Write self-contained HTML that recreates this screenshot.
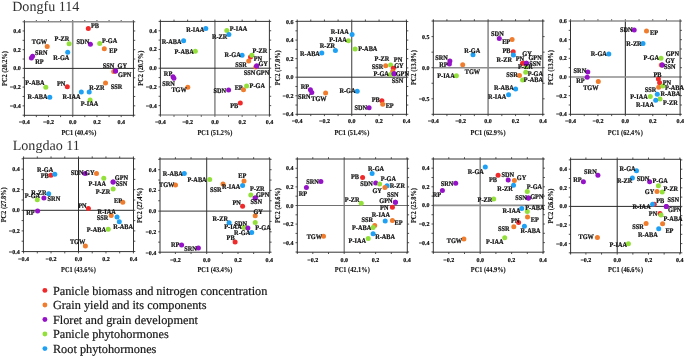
<!DOCTYPE html>
<html><head><meta charset="utf-8"><style>
html,body{margin:0;padding:0;background:#fff;width:685px;height:357px;overflow:hidden}
svg{display:block;will-change:transform}
text{font-family:"Liberation Serif",serif;text-rendering:geometricPrecision}
.l{font-size:6.3px;font-weight:bold;fill:#111;stroke:#111;stroke-width:0.22px}
.t{font-size:6.0px;font-weight:bold;fill:#111;stroke:#111;stroke-width:0.2px}
.a{font-size:6.35px;font-weight:bold;fill:#111;stroke:#111;stroke-width:0.1px}
.ti{font-size:14.1px;fill:#303030}
.lg{font-size:12.3px;fill:#141414;stroke:#141414;stroke-width:0.18px}
</style></head><body>
<svg width="685" height="357" viewBox="0 0 685 357">
<path d="M24.40 115.30v1.8M24.40 21.80v-1.8M36.34 115.30v1.8M36.34 21.80v-1.8M48.46 115.30v1.8M48.46 21.80v-1.8M60.58 115.30v1.8M60.58 21.80v-1.8M72.70 115.30v1.8M72.70 21.80v-1.8M84.82 115.30v1.8M84.82 21.80v-1.8M96.94 115.30v1.8M96.94 21.80v-1.8M109.06 115.30v1.8M109.06 21.80v-1.8M121.18 115.30v1.8M121.18 21.80v-1.8M133.30 115.30v1.8M133.30 21.80v-1.8M24.40 115.20h-1.8M133.45 115.20h1.8M24.40 105.84h-1.8M133.45 105.84h1.8M24.40 96.48h-1.8M133.45 96.48h1.8M24.40 87.12h-1.8M133.45 87.12h1.8M24.40 77.76h-1.8M133.45 77.76h1.8M24.40 68.40h-1.8M133.45 68.40h1.8M24.40 59.04h-1.8M133.45 59.04h1.8M24.40 49.68h-1.8M133.45 49.68h1.8M24.40 40.32h-1.8M133.45 40.32h1.8M24.40 30.96h-1.8M133.45 30.96h1.8M24.40 21.80h-1.8M133.45 21.80h1.8" stroke="#333" stroke-width="0.85" fill="none"/>
<text x="24.22" y="124.1" class="t" text-anchor="middle">−0.4</text>
<text x="48.46" y="124.1" class="t" text-anchor="middle">−0.2</text>
<text x="72.70" y="124.1" class="t" text-anchor="middle">0.0</text>
<text x="96.94" y="124.1" class="t" text-anchor="middle">0.2</text>
<text x="121.18" y="124.1" class="t" text-anchor="middle">0.4</text>
<text x="20.70" y="107.84" class="t" text-anchor="end">−0.4</text>
<text x="20.70" y="89.12" class="t" text-anchor="end">−0.2</text>
<text x="20.70" y="70.40" class="t" text-anchor="end">0.0</text>
<text x="20.70" y="51.68" class="t" text-anchor="end">0.2</text>
<text x="20.70" y="32.96" class="t" text-anchor="end">0.4</text>
<line x1="72.70" y1="21.80" x2="72.70" y2="115.30" stroke="#8e8e8e" stroke-width="1.6"/>
<line x1="24.40" y1="68.40" x2="133.45" y2="68.40" stroke="#2a2a2a" stroke-width="1.0"/>
<line x1="23.90" y1="21.80" x2="133.95" y2="21.80" stroke="#8e8e8e" stroke-width="1.5"/>
<line x1="23.90" y1="115.30" x2="133.95" y2="115.30" stroke="#333" stroke-width="1.0"/>
<line x1="24.40" y1="21.30" x2="24.40" y2="115.80" stroke="#333" stroke-width="1.0"/>
<line x1="133.45" y1="21.30" x2="133.45" y2="115.80" stroke="#333" stroke-width="1.0"/>
<text transform="translate(78.92,134.6) scale(1,1.2)" class="a" text-anchor="middle">PC1 (40.4%)</text>
<text transform="translate(6.80,68.55) rotate(-90) scale(1,1.2)" class="a" text-anchor="middle">PC2 (20.2%)</text>
<circle cx="88.30" cy="28.50" r="2.5" fill="#f02a2a"/>
<circle cx="47.20" cy="46.40" r="2.5" fill="#f07d2d"/>
<circle cx="69.10" cy="43.80" r="2.5" fill="#93e03a"/>
<circle cx="67.70" cy="52.20" r="2.5" fill="#1ea0f5"/>
<circle cx="32.60" cy="56.20" r="2.5" fill="#9512c8"/>
<circle cx="31.40" cy="58.00" r="2.5" fill="#9512c8"/>
<circle cx="90.40" cy="44.30" r="2.5" fill="#9512c8"/>
<circle cx="99.70" cy="43.40" r="2.5" fill="#93e03a"/>
<circle cx="104.30" cy="48.70" r="2.5" fill="#f07d2d"/>
<circle cx="113.70" cy="71.60" r="2.5" fill="#f07d2d"/>
<circle cx="115.50" cy="71.10" r="2.5" fill="#9512c8"/>
<circle cx="115.50" cy="71.10" r="2.5" fill="#9512c8"/>
<circle cx="45.80" cy="87.20" r="2.5" fill="#93e03a"/>
<circle cx="67.30" cy="86.80" r="2.5" fill="#f02a2a"/>
<circle cx="49.80" cy="97.30" r="2.5" fill="#1ea0f5"/>
<circle cx="81.30" cy="91.90" r="2.5" fill="#1ea0f5"/>
<circle cx="89.20" cy="91.90" r="2.5" fill="#1ea0f5"/>
<circle cx="90.10" cy="100.00" r="2.5" fill="#93e03a"/>
<circle cx="105.50" cy="83.10" r="2.5" fill="#f07d2d"/>
<text transform="translate(94.90,27.60) scale(1.0,1.12)" class="l" text-anchor="middle">PB</text>
<text transform="translate(39.45,43.90) scale(1.0,1.12)" class="l" text-anchor="middle">TGW</text>
<text transform="translate(61.90,41.10) scale(1.0,1.12)" class="l" text-anchor="middle">P-ZR</text>
<text transform="translate(61.35,60.40) scale(1.0,1.12)" class="l" text-anchor="middle">R-GA</text>
<text transform="translate(41.20,55.10) scale(1.0,1.12)" class="l" text-anchor="middle">SRN</text>
<text transform="translate(39.35,63.90) scale(1.0,1.12)" class="l" text-anchor="middle">RP</text>
<text transform="translate(82.90,43.70) scale(1.0,1.12)" class="l" text-anchor="middle">SDN</text>
<text transform="translate(109.60,42.90) scale(1.0,1.12)" class="l" text-anchor="middle">P-GA</text>
<text transform="translate(113.25,53.00) scale(1.0,1.12)" class="l" text-anchor="middle">EP</text>
<text transform="translate(122.25,67.90) scale(1.0,1.12)" class="l" text-anchor="middle">GY</text>
<text transform="translate(108.45,67.90) scale(1.0,1.12)" class="l" text-anchor="middle">SSN</text>
<text transform="translate(124.65,77.20) scale(1.0,1.12)" class="l" text-anchor="middle">GPN</text>
<text transform="translate(34.90,85.00) scale(1.0,1.12)" class="l" text-anchor="middle">P-ABA</text>
<text transform="translate(61.15,85.80) scale(1.0,1.12)" class="l" text-anchor="middle">PN</text>
<text transform="translate(37.55,99.40) scale(1.0,1.12)" class="l" text-anchor="middle">R-ABA</text>
<text transform="translate(71.50,99.20) scale(1.0,1.12)" class="l" text-anchor="middle">R-IAA</text>
<text transform="translate(96.90,90.10) scale(1.0,1.12)" class="l" text-anchor="middle">R-ZR</text>
<text transform="translate(89.50,106.40) scale(1.0,1.12)" class="l" text-anchor="middle">P-IAA</text>
<text transform="translate(116.60,88.90) scale(1.0,1.12)" class="l" text-anchor="middle">SSR</text>
<path d="M160.40 115.00v1.8M160.40 21.40v-1.8M174.01 115.00v1.8M174.01 21.40v-1.8M187.64 115.00v1.8M187.64 21.40v-1.8M201.27 115.00v1.8M201.27 21.40v-1.8M214.90 115.00v1.8M214.90 21.40v-1.8M228.53 115.00v1.8M228.53 21.40v-1.8M242.16 115.00v1.8M242.16 21.40v-1.8M255.79 115.00v1.8M255.79 21.40v-1.8M269.40 115.00v1.8M269.40 21.40v-1.8M160.40 115.00h-1.8M269.40 115.00h1.8M160.40 105.64h-1.8M269.40 105.64h1.8M160.40 96.28h-1.8M269.40 96.28h1.8M160.40 86.92h-1.8M269.40 86.92h1.8M160.40 77.56h-1.8M269.40 77.56h1.8M160.40 68.20h-1.8M269.40 68.20h1.8M160.40 58.84h-1.8M269.40 58.84h1.8M160.40 49.48h-1.8M269.40 49.48h1.8M160.40 40.12h-1.8M269.40 40.12h1.8M160.40 30.76h-1.8M269.40 30.76h1.8M160.40 21.40h-1.8M269.40 21.40h1.8" stroke="#333" stroke-width="0.85" fill="none"/>
<text x="160.38" y="123.8" class="t" text-anchor="middle">−0.4</text>
<text x="187.64" y="123.8" class="t" text-anchor="middle">−0.2</text>
<text x="214.90" y="123.8" class="t" text-anchor="middle">0.0</text>
<text x="242.16" y="123.8" class="t" text-anchor="middle">0.2</text>
<text x="269.42" y="123.8" class="t" text-anchor="middle">0.4</text>
<text x="156.70" y="107.64" class="t" text-anchor="end">−0.4</text>
<text x="156.70" y="88.92" class="t" text-anchor="end">−0.2</text>
<text x="156.70" y="70.20" class="t" text-anchor="end">0.0</text>
<text x="156.70" y="51.48" class="t" text-anchor="end">0.2</text>
<text x="156.70" y="32.76" class="t" text-anchor="end">0.4</text>
<line x1="214.90" y1="21.40" x2="214.90" y2="115.00" stroke="#8e8e8e" stroke-width="1.6"/>
<line x1="160.40" y1="68.20" x2="269.40" y2="68.20" stroke="#2a2a2a" stroke-width="1.0"/>
<line x1="159.90" y1="21.40" x2="269.90" y2="21.40" stroke="#333" stroke-width="1.0"/>
<line x1="159.90" y1="115.00" x2="269.90" y2="115.00" stroke="#6a6a6a" stroke-width="1.2"/>
<line x1="160.40" y1="20.90" x2="160.40" y2="115.50" stroke="#333" stroke-width="1.0"/>
<line x1="269.40" y1="20.90" x2="269.40" y2="115.50" stroke="#333" stroke-width="1.0"/>
<text transform="translate(214.90,134.6) scale(1,1.2)" class="a" text-anchor="middle">PC1 (51.2%)</text>
<text transform="translate(142.80,68.20) rotate(-90) scale(1,1.2)" class="a" text-anchor="middle">PC2 (20.7%)</text>
<circle cx="205.80" cy="28.50" r="2.5" fill="#1ea0f5"/>
<circle cx="226.80" cy="30.60" r="2.5" fill="#93e03a"/>
<circle cx="228.90" cy="34.60" r="2.5" fill="#1ea0f5"/>
<circle cx="183.60" cy="40.80" r="2.5" fill="#1ea0f5"/>
<circle cx="195.30" cy="51.30" r="2.5" fill="#93e03a"/>
<circle cx="242.10" cy="55.30" r="2.5" fill="#1ea0f5"/>
<circle cx="250.50" cy="56.90" r="2.5" fill="#f02a2a"/>
<circle cx="251.90" cy="55.30" r="2.5" fill="#93e03a"/>
<circle cx="248.70" cy="60.90" r="2.5" fill="#f07d2d"/>
<circle cx="255.70" cy="67.00" r="2.5" fill="#f07d2d"/>
<circle cx="256.60" cy="66.10" r="2.5" fill="#9512c8"/>
<circle cx="256.60" cy="66.10" r="2.5" fill="#9512c8"/>
<circle cx="173.00" cy="76.80" r="2.5" fill="#9512c8"/>
<circle cx="173.90" cy="78.20" r="2.5" fill="#9512c8"/>
<circle cx="187.80" cy="87.20" r="2.5" fill="#f07d2d"/>
<circle cx="228.60" cy="90.10" r="2.5" fill="#9512c8"/>
<circle cx="243.50" cy="89.80" r="2.5" fill="#f07d2d"/>
<circle cx="246.60" cy="85.90" r="2.5" fill="#93e03a"/>
<circle cx="240.30" cy="102.90" r="2.5" fill="#f02a2a"/>
<text transform="translate(195.25,31.70) scale(1.0,1.12)" class="l" text-anchor="middle">R-IAA</text>
<text transform="translate(238.50,30.80) scale(1.0,1.12)" class="l" text-anchor="middle">P-IAA</text>
<text transform="translate(219.65,39.40) scale(1.0,1.12)" class="l" text-anchor="middle">R-ZR</text>
<text transform="translate(171.65,43.80) scale(1.0,1.12)" class="l" text-anchor="middle">R-ABA</text>
<text transform="translate(184.15,54.30) scale(1.0,1.12)" class="l" text-anchor="middle">P-ABA</text>
<text transform="translate(232.65,56.90) scale(1.0,1.12)" class="l" text-anchor="middle">R-GA</text>
<text transform="translate(259.95,53.00) scale(1.0,1.12)" class="l" text-anchor="middle">P-ZR</text>
<text transform="translate(257.95,61.30) scale(1.0,1.12)" class="l" text-anchor="middle">PN</text>
<text transform="translate(241.10,66.50) scale(1.0,1.12)" class="l" text-anchor="middle">SSR</text>
<text transform="translate(263.15,66.20) scale(1.0,1.12)" class="l" text-anchor="middle">GY</text>
<text transform="translate(249.60,74.60) scale(1.0,1.12)" class="l" text-anchor="middle">SSN</text>
<text transform="translate(262.60,74.60) scale(1.0,1.12)" class="l" text-anchor="middle">GPN</text>
<text transform="translate(168.05,75.80) scale(1.0,1.12)" class="l" text-anchor="middle">RP</text>
<text transform="translate(168.50,85.90) scale(1.0,1.12)" class="l" text-anchor="middle">SRN</text>
<text transform="translate(179.10,91.90) scale(1.0,1.12)" class="l" text-anchor="middle">TGW</text>
<text transform="translate(219.85,92.80) scale(1.0,1.12)" class="l" text-anchor="middle">SDN</text>
<text transform="translate(238.65,89.80) scale(1.0,1.12)" class="l" text-anchor="middle">EP</text>
<text transform="translate(257.30,88.00) scale(1.0,1.12)" class="l" text-anchor="middle">P-GA</text>
<text transform="translate(234.25,107.70) scale(1.0,1.12)" class="l" text-anchor="middle">PB</text>
<path d="M297.20 114.30v1.8M297.20 21.30v-1.8M310.77 114.30v1.8M310.77 21.30v-1.8M324.43 114.30v1.8M324.43 21.30v-1.8M338.09 114.30v1.8M338.09 21.30v-1.8M351.75 114.30v1.8M351.75 21.30v-1.8M365.41 114.30v1.8M365.41 21.30v-1.8M379.07 114.30v1.8M379.07 21.30v-1.8M392.73 114.30v1.8M392.73 21.30v-1.8M406.39 114.30v1.8M406.39 21.30v-1.8M297.20 114.30h-1.8M406.50 114.30h1.8M297.20 105.03h-1.8M406.50 105.03h1.8M297.20 95.75h-1.8M406.50 95.75h1.8M297.20 86.48h-1.8M406.50 86.48h1.8M297.20 77.20h-1.8M406.50 77.20h1.8M297.20 67.92h-1.8M406.50 67.92h1.8M297.20 58.65h-1.8M406.50 58.65h1.8M297.20 49.38h-1.8M406.50 49.38h1.8M297.20 40.10h-1.8M406.50 40.10h1.8M297.20 30.83h-1.8M406.50 30.83h1.8M297.20 21.55h-1.8M406.50 21.55h1.8" stroke="#333" stroke-width="0.85" fill="none"/>
<text x="297.11" y="123.1" class="t" text-anchor="middle">−0.4</text>
<text x="324.43" y="123.1" class="t" text-anchor="middle">−0.2</text>
<text x="351.75" y="123.1" class="t" text-anchor="middle">0.0</text>
<text x="379.07" y="123.1" class="t" text-anchor="middle">0.2</text>
<text x="406.39" y="123.1" class="t" text-anchor="middle">0.4</text>
<text x="293.50" y="116.30" class="t" text-anchor="end">−0.4</text>
<text x="293.50" y="97.75" class="t" text-anchor="end">−0.2</text>
<text x="293.50" y="79.20" class="t" text-anchor="end">0.0</text>
<text x="293.50" y="60.65" class="t" text-anchor="end">0.2</text>
<text x="293.50" y="42.10" class="t" text-anchor="end">0.4</text>
<text x="293.50" y="23.55" class="t" text-anchor="end">0.6</text>
<line x1="351.75" y1="21.30" x2="351.75" y2="114.30" stroke="#3a3a3a" stroke-width="1.0"/>
<line x1="297.20" y1="77.20" x2="406.50" y2="77.20" stroke="#2a2a2a" stroke-width="1.0"/>
<line x1="296.70" y1="21.30" x2="407.00" y2="21.30" stroke="#333" stroke-width="1.0"/>
<line x1="296.70" y1="114.30" x2="407.00" y2="114.30" stroke="#333" stroke-width="1.0"/>
<line x1="297.20" y1="20.80" x2="297.20" y2="114.80" stroke="#333" stroke-width="1.0"/>
<line x1="406.50" y1="20.80" x2="406.50" y2="114.80" stroke="#333" stroke-width="1.0"/>
<text transform="translate(351.85,134.6) scale(1,1.2)" class="a" text-anchor="middle">PC1 (51.4%)</text>
<text transform="translate(279.60,67.80) rotate(-90) scale(1,1.2)" class="a" text-anchor="middle">PC2 (17.0%)</text>
<circle cx="352.10" cy="34.60" r="2.5" fill="#1ea0f5"/>
<circle cx="348.40" cy="40.80" r="2.5" fill="#93e03a"/>
<circle cx="335.40" cy="50.40" r="2.5" fill="#1ea0f5"/>
<circle cx="321.80" cy="53.00" r="2.5" fill="#1ea0f5"/>
<circle cx="355.10" cy="49.00" r="2.5" fill="#93e03a"/>
<circle cx="385.70" cy="65.70" r="2.5" fill="#f07d2d"/>
<circle cx="390.60" cy="65.10" r="2.5" fill="#93e03a"/>
<circle cx="393.30" cy="68.20" r="2.5" fill="#f02a2a"/>
<circle cx="392.70" cy="71.40" r="2.5" fill="#f07d2d"/>
<circle cx="390.50" cy="74.40" r="2.5" fill="#93e03a"/>
<circle cx="394.10" cy="73.70" r="2.5" fill="#9512c8"/>
<circle cx="394.10" cy="73.70" r="2.5" fill="#9512c8"/>
<circle cx="310.40" cy="89.80" r="2.5" fill="#9512c8"/>
<circle cx="311.80" cy="92.40" r="2.5" fill="#9512c8"/>
<circle cx="325.60" cy="92.90" r="2.5" fill="#f07d2d"/>
<circle cx="357.20" cy="91.20" r="2.5" fill="#1ea0f5"/>
<circle cx="381.90" cy="100.80" r="2.5" fill="#f02a2a"/>
<circle cx="382.70" cy="104.30" r="2.5" fill="#f07d2d"/>
<circle cx="369.10" cy="107.70" r="2.5" fill="#9512c8"/>
<text transform="translate(339.75,34.30) scale(1.0,1.12)" class="l" text-anchor="middle">R-IAA</text>
<text transform="translate(338.00,42.00) scale(1.0,1.12)" class="l" text-anchor="middle">P-IAA</text>
<text transform="translate(327.45,48.30) scale(1.0,1.12)" class="l" text-anchor="middle">R-ZR</text>
<text transform="translate(309.95,55.70) scale(1.0,1.12)" class="l" text-anchor="middle">R-ABA</text>
<text transform="translate(367.80,51.30) scale(1.0,1.12)" class="l" text-anchor="middle">P-ABA</text>
<text transform="translate(381.95,61.30) scale(1.0,1.12)" class="l" text-anchor="middle">P-ZR</text>
<text transform="translate(377.60,68.80) scale(1.0,1.12)" class="l" text-anchor="middle">SSR</text>
<text transform="translate(398.05,61.80) scale(1.0,1.12)" class="l" text-anchor="middle">PN</text>
<text transform="translate(398.85,67.90) scale(1.0,1.12)" class="l" text-anchor="middle">GY</text>
<text transform="translate(381.20,76.30) scale(1.0,1.12)" class="l" text-anchor="middle">P-GA</text>
<text transform="translate(402.35,76.30) scale(1.0,1.12)" class="l" text-anchor="middle">GPN</text>
<text transform="translate(397.55,83.30) scale(1.0,1.12)" class="l" text-anchor="middle">SSN</text>
<text transform="translate(304.90,89.40) scale(1.0,1.12)" class="l" text-anchor="middle">RP</text>
<text transform="translate(304.25,99.40) scale(1.0,1.12)" class="l" text-anchor="middle">SRN</text>
<text transform="translate(318.90,100.80) scale(1.0,1.12)" class="l" text-anchor="middle">TGW</text>
<text transform="translate(347.45,93.30) scale(1.0,1.12)" class="l" text-anchor="middle">R-GA</text>
<text transform="translate(375.65,102.00) scale(1.0,1.12)" class="l" text-anchor="middle">PB</text>
<text transform="translate(389.65,107.80) scale(1.0,1.12)" class="l" text-anchor="middle">EP</text>
<text transform="translate(360.75,110.30) scale(1.0,1.12)" class="l" text-anchor="middle">SDN</text>
<path d="M433.30 114.30v1.8M433.30 21.00v-1.8M446.91 114.30v1.8M446.91 21.00v-1.8M460.64 114.30v1.8M460.64 21.00v-1.8M474.37 114.30v1.8M474.37 21.00v-1.8M488.10 114.30v1.8M488.10 21.00v-1.8M501.83 114.30v1.8M501.83 21.00v-1.8M515.56 114.30v1.8M515.56 21.00v-1.8M529.29 114.30v1.8M529.29 21.00v-1.8M542.80 114.30v1.8M542.80 21.00v-1.8M433.30 114.30h-1.8M542.80 114.30h1.8M433.30 98.80h-1.8M542.80 98.80h1.8M433.30 83.25h-1.8M542.80 83.25h1.8M433.30 67.70h-1.8M542.80 67.70h1.8M433.30 52.15h-1.8M542.80 52.15h1.8M433.30 36.60h-1.8M542.80 36.60h1.8M433.30 21.05h-1.8M542.80 21.05h1.8" stroke="#333" stroke-width="0.85" fill="none"/>
<text x="433.18" y="123.1" class="t" text-anchor="middle">−0.4</text>
<text x="460.64" y="123.1" class="t" text-anchor="middle">−0.2</text>
<text x="488.10" y="123.1" class="t" text-anchor="middle">0.0</text>
<text x="515.56" y="123.1" class="t" text-anchor="middle">0.2</text>
<text x="543.02" y="123.1" class="t" text-anchor="middle">0.4</text>
<text x="429.60" y="100.80" class="t" text-anchor="end">−0.5</text>
<text x="429.60" y="69.70" class="t" text-anchor="end">0.0</text>
<text x="429.60" y="38.60" class="t" text-anchor="end">0.5</text>
<line x1="488.10" y1="21.00" x2="488.10" y2="114.30" stroke="#8e8e8e" stroke-width="1.6"/>
<line x1="433.30" y1="67.70" x2="542.80" y2="67.70" stroke="#8e8e8e" stroke-width="1.6"/>
<line x1="432.80" y1="21.00" x2="543.30" y2="21.00" stroke="#333" stroke-width="1.0"/>
<line x1="432.80" y1="114.30" x2="543.30" y2="114.30" stroke="#333" stroke-width="1.0"/>
<line x1="433.30" y1="20.50" x2="433.30" y2="114.80" stroke="#333" stroke-width="1.0"/>
<line x1="542.80" y1="20.50" x2="542.80" y2="114.80" stroke="#333" stroke-width="1.0"/>
<text transform="translate(488.05,134.6) scale(1,1.2)" class="a" text-anchor="middle">PC1 (62.9%)</text>
<text transform="translate(415.70,67.65) rotate(-90) scale(1,1.2)" class="a" text-anchor="middle">PC2 (13.8%)</text>
<circle cx="499.30" cy="38.50" r="2.5" fill="#9512c8"/>
<circle cx="512.10" cy="39.50" r="2.5" fill="#f07d2d"/>
<circle cx="513.20" cy="51.80" r="2.5" fill="#f02a2a"/>
<circle cx="473.00" cy="54.80" r="2.5" fill="#1ea0f5"/>
<circle cx="513.40" cy="55.00" r="2.5" fill="#1ea0f5"/>
<circle cx="449.90" cy="60.90" r="2.5" fill="#9512c8"/>
<circle cx="449.40" cy="64.10" r="2.5" fill="#9512c8"/>
<circle cx="462.70" cy="64.80" r="2.5" fill="#f07d2d"/>
<circle cx="456.40" cy="75.80" r="2.5" fill="#93e03a"/>
<circle cx="526.00" cy="66.80" r="2.5" fill="#93e03a"/>
<circle cx="524.20" cy="63.30" r="2.5" fill="#f07d2d"/>
<circle cx="522.50" cy="63.30" r="2.5" fill="#f02a2a"/>
<circle cx="526.40" cy="63.30" r="2.5" fill="#9512c8"/>
<circle cx="526.40" cy="63.30" r="2.5" fill="#9512c8"/>
<circle cx="525.70" cy="72.30" r="2.5" fill="#93e03a"/>
<circle cx="519.50" cy="75.60" r="2.5" fill="#f07d2d"/>
<circle cx="522.60" cy="80.00" r="2.5" fill="#93e03a"/>
<circle cx="515.60" cy="88.90" r="2.5" fill="#1ea0f5"/>
<circle cx="508.60" cy="94.70" r="2.5" fill="#1ea0f5"/>
<text transform="translate(497.40,36.40) scale(1.0,1.12)" class="l" text-anchor="middle">SDN</text>
<text transform="translate(506.15,43.90) scale(1.0,1.12)" class="l" text-anchor="middle">EP</text>
<text transform="translate(506.40,53.00) scale(1.0,1.12)" class="l" text-anchor="middle">PB</text>
<text transform="translate(472.25,52.50) scale(1.0,1.12)" class="l" text-anchor="middle">R-GA</text>
<text transform="translate(504.30,61.80) scale(1.0,1.12)" class="l" text-anchor="middle">R-ZR</text>
<text transform="translate(441.50,60.00) scale(1.0,1.12)" class="l" text-anchor="middle">SRN</text>
<text transform="translate(443.35,66.70) scale(1.0,1.12)" class="l" text-anchor="middle">RP</text>
<text transform="translate(472.40,74.10) scale(1.0,1.12)" class="l" text-anchor="middle">TGW</text>
<text transform="translate(445.95,77.90) scale(1.0,1.12)" class="l" text-anchor="middle">P-IAA</text>
<text transform="translate(527.05,55.80) scale(1.0,1.12)" class="l" text-anchor="middle">GY</text>
<text transform="translate(519.90,60.50) scale(1.0,1.12)" class="l" text-anchor="middle">PN</text>
<text transform="translate(535.10,60.40) scale(1.0,1.12)" class="l" text-anchor="middle">GPN</text>
<text transform="translate(535.10,66.00) scale(1.0,1.12)" class="l" text-anchor="middle">SSN</text>
<text transform="translate(525.35,69.00) scale(1.0,1.12)" class="l" text-anchor="middle">P-ZR</text>
<text transform="translate(535.35,75.80) scale(1.0,1.12)" class="l" text-anchor="middle">P-GA</text>
<text transform="translate(512.00,77.30) scale(1.0,1.12)" class="l" text-anchor="middle">SSR</text>
<text transform="translate(533.45,82.20) scale(1.0,1.12)" class="l" text-anchor="middle">P-ABA</text>
<text transform="translate(503.85,90.30) scale(1.0,1.12)" class="l" text-anchor="middle">R-ABA</text>
<text transform="translate(497.20,99.10) scale(1.0,1.12)" class="l" text-anchor="middle">R-IAA</text>
<path d="M570.55 114.30v1.8M570.55 21.00v-1.8M584.25 114.30v1.8M584.25 21.00v-1.8M597.95 114.30v1.8M597.95 21.00v-1.8M611.65 114.30v1.8M611.65 21.00v-1.8M625.35 114.30v1.8M625.35 21.00v-1.8M639.05 114.30v1.8M639.05 21.00v-1.8M652.75 114.30v1.8M652.75 21.00v-1.8M666.45 114.30v1.8M666.45 21.00v-1.8M680.10 114.30v1.8M680.10 21.00v-1.8M570.50 114.30h-1.8M680.10 114.30h1.8M570.50 104.99h-1.8M680.10 104.99h1.8M570.50 95.66h-1.8M680.10 95.66h1.8M570.50 86.33h-1.8M680.10 86.33h1.8M570.50 77.00h-1.8M680.10 77.00h1.8M570.50 67.67h-1.8M680.10 67.67h1.8M570.50 58.34h-1.8M680.10 58.34h1.8M570.50 49.01h-1.8M680.10 49.01h1.8M570.50 39.68h-1.8M680.10 39.68h1.8M570.50 30.35h-1.8M680.10 30.35h1.8M570.50 21.02h-1.8M680.10 21.02h1.8" stroke="#333" stroke-width="0.85" fill="none"/>
<text x="570.55" y="123.1" class="t" text-anchor="middle">−0.4</text>
<text x="597.95" y="123.1" class="t" text-anchor="middle">−0.2</text>
<text x="625.35" y="123.1" class="t" text-anchor="middle">0.0</text>
<text x="652.75" y="123.1" class="t" text-anchor="middle">0.2</text>
<text x="680.15" y="123.1" class="t" text-anchor="middle">0.4</text>
<text x="566.80" y="116.32" class="t" text-anchor="end">−0.4</text>
<text x="566.80" y="97.66" class="t" text-anchor="end">−0.2</text>
<text x="566.80" y="79.00" class="t" text-anchor="end">0.0</text>
<text x="566.80" y="60.34" class="t" text-anchor="end">0.2</text>
<text x="566.80" y="41.68" class="t" text-anchor="end">0.4</text>
<text x="566.80" y="23.02" class="t" text-anchor="end">0.6</text>
<line x1="625.35" y1="21.00" x2="625.35" y2="114.30" stroke="#333" stroke-width="1.1"/>
<line x1="570.50" y1="77.00" x2="680.10" y2="77.00" stroke="#8e8e8e" stroke-width="1.5"/>
<line x1="570.00" y1="21.00" x2="680.60" y2="21.00" stroke="#8e8e8e" stroke-width="1.4"/>
<line x1="570.00" y1="114.30" x2="680.60" y2="114.30" stroke="#333" stroke-width="1.0"/>
<line x1="570.50" y1="20.50" x2="570.50" y2="114.80" stroke="#333" stroke-width="1.0"/>
<line x1="680.10" y1="20.50" x2="680.10" y2="114.80" stroke="#333" stroke-width="1.0"/>
<text transform="translate(625.30,134.6) scale(1,1.2)" class="a" text-anchor="middle">PC1 (62.4%)</text>
<text transform="translate(552.90,67.65) rotate(-90) scale(1,1.2)" class="a" text-anchor="middle">PC2 (13.9%)</text>
<circle cx="634.20" cy="29.90" r="2.5" fill="#9512c8"/>
<circle cx="646.50" cy="31.10" r="2.5" fill="#f07d2d"/>
<circle cx="643.00" cy="43.40" r="2.5" fill="#1ea0f5"/>
<circle cx="608.80" cy="53.90" r="2.5" fill="#1ea0f5"/>
<circle cx="661.00" cy="58.30" r="2.5" fill="#93e03a"/>
<circle cx="661.20" cy="65.00" r="2.5" fill="#f07d2d"/>
<circle cx="662.20" cy="65.00" r="2.5" fill="#9512c8"/>
<circle cx="662.20" cy="65.00" r="2.5" fill="#9512c8"/>
<circle cx="587.80" cy="72.00" r="2.5" fill="#9512c8"/>
<circle cx="587.20" cy="77.20" r="2.5" fill="#9512c8"/>
<circle cx="598.30" cy="81.50" r="2.5" fill="#f07d2d"/>
<circle cx="658.40" cy="79.00" r="2.5" fill="#f02a2a"/>
<circle cx="659.60" cy="82.80" r="2.5" fill="#f02a2a"/>
<circle cx="658.70" cy="87.20" r="2.5" fill="#f07d2d"/>
<circle cx="662.80" cy="85.90" r="2.5" fill="#93e03a"/>
<circle cx="657.30" cy="94.20" r="2.5" fill="#1ea0f5"/>
<circle cx="650.30" cy="96.40" r="2.5" fill="#93e03a"/>
<circle cx="660.00" cy="98.90" r="2.5" fill="#93e03a"/>
<circle cx="655.70" cy="100.30" r="2.5" fill="#1ea0f5"/>
<text transform="translate(626.30,32.00) scale(1.0,1.12)" class="l" text-anchor="middle">SDN</text>
<text transform="translate(653.95,34.60) scale(1.0,1.12)" class="l" text-anchor="middle">EP</text>
<text transform="translate(633.95,45.50) scale(1.0,1.12)" class="l" text-anchor="middle">R-ZR</text>
<text transform="translate(598.80,56.20) scale(1.0,1.12)" class="l" text-anchor="middle">R-GA</text>
<text transform="translate(651.25,59.50) scale(1.0,1.12)" class="l" text-anchor="middle">P-GA</text>
<text transform="translate(672.30,56.00) scale(1.0,1.12)" class="l" text-anchor="middle">GPN</text>
<text transform="translate(670.10,62.70) scale(1.0,1.12)" class="l" text-anchor="middle">GY</text>
<text transform="translate(669.85,68.50) scale(1.0,1.12)" class="l" text-anchor="middle">SSN</text>
<text transform="translate(579.90,73.20) scale(1.0,1.12)" class="l" text-anchor="middle">SRN</text>
<text transform="translate(580.35,83.30) scale(1.0,1.12)" class="l" text-anchor="middle">RP</text>
<text transform="translate(590.85,89.80) scale(1.0,1.12)" class="l" text-anchor="middle">TGW</text>
<text transform="translate(657.45,77.40) scale(1.0,1.12)" class="l" text-anchor="middle">PB</text>
<text transform="translate(666.90,84.50) scale(1.0,1.12)" class="l" text-anchor="middle">PN</text>
<text transform="translate(650.60,91.50) scale(1.0,1.12)" class="l" text-anchor="middle">SSR</text>
<text transform="translate(674.50,89.80) scale(1.0,1.12)" class="l" text-anchor="middle">P-ABA</text>
<text transform="translate(670.40,95.90) scale(1.0,1.12)" class="l" text-anchor="middle">R-ABA</text>
<text transform="translate(639.00,98.90) scale(1.0,1.12)" class="l" text-anchor="middle">P-IAA</text>
<text transform="translate(670.35,105.20) scale(1.0,1.12)" class="l" text-anchor="middle">P-ZR</text>
<text transform="translate(645.00,107.00) scale(1.0,1.12)" class="l" text-anchor="middle">R-IAA</text>
<path d="M23.58 251.60v1.8M23.58 158.20v-1.8M37.31 251.60v1.8M37.31 158.20v-1.8M51.04 251.60v1.8M51.04 158.20v-1.8M64.77 251.60v1.8M64.77 158.20v-1.8M78.50 251.60v1.8M78.50 158.20v-1.8M92.23 251.60v1.8M92.23 158.20v-1.8M105.96 251.60v1.8M105.96 158.20v-1.8M119.69 251.60v1.8M119.69 158.20v-1.8M133.42 251.60v1.8M133.42 158.20v-1.8M23.40 251.50h-1.8M133.50 251.50h1.8M23.40 241.20h-1.8M133.50 241.20h1.8M23.40 230.90h-1.8M133.50 230.90h1.8M23.40 220.60h-1.8M133.50 220.60h1.8M23.40 210.30h-1.8M133.50 210.30h1.8M23.40 200.00h-1.8M133.50 200.00h1.8M23.40 189.70h-1.8M133.50 189.70h1.8M23.40 179.40h-1.8M133.50 179.40h1.8M23.40 169.10h-1.8M133.50 169.10h1.8M23.40 158.80h-1.8M133.50 158.80h1.8" stroke="#333" stroke-width="0.85" fill="none"/>
<text x="23.58" y="260.9" class="t" text-anchor="middle">−0.4</text>
<text x="51.04" y="260.9" class="t" text-anchor="middle">−0.2</text>
<text x="78.50" y="260.9" class="t" text-anchor="middle">0.0</text>
<text x="105.96" y="260.9" class="t" text-anchor="middle">0.2</text>
<text x="133.42" y="260.9" class="t" text-anchor="middle">0.4</text>
<text x="19.70" y="253.50" class="t" text-anchor="end">−0.4</text>
<text x="19.70" y="232.90" class="t" text-anchor="end">−0.2</text>
<text x="19.70" y="212.30" class="t" text-anchor="end">0.0</text>
<text x="19.70" y="191.70" class="t" text-anchor="end">0.2</text>
<text x="19.70" y="171.10" class="t" text-anchor="end">0.4</text>
<line x1="78.50" y1="158.20" x2="78.50" y2="251.60" stroke="#2a2a2a" stroke-width="1.0"/>
<line x1="23.40" y1="210.30" x2="133.50" y2="210.30" stroke="#2a2a2a" stroke-width="1.0"/>
<line x1="22.90" y1="158.20" x2="134.00" y2="158.20" stroke="#333" stroke-width="1.0"/>
<line x1="22.90" y1="251.60" x2="134.00" y2="251.60" stroke="#333" stroke-width="1.0"/>
<line x1="23.40" y1="157.70" x2="23.40" y2="252.10" stroke="#333" stroke-width="1.0"/>
<line x1="133.50" y1="157.70" x2="133.50" y2="252.10" stroke="#333" stroke-width="1.0"/>
<text transform="translate(78.45,272.2) scale(1,1.2)" class="a" text-anchor="middle">PC1 (43.6%)</text>
<text transform="translate(5.80,204.90) rotate(-90) scale(1,1.2)" class="a" text-anchor="middle">PC2 (27.8%)</text>
<circle cx="50.90" cy="175.30" r="2.5" fill="#f02a2a"/>
<circle cx="54.80" cy="174.20" r="2.5" fill="#1ea0f5"/>
<circle cx="85.10" cy="173.40" r="2.5" fill="#9512c8"/>
<circle cx="96.50" cy="173.40" r="2.5" fill="#f07d2d"/>
<circle cx="103.80" cy="178.30" r="2.5" fill="#93e03a"/>
<circle cx="113.10" cy="182.10" r="2.5" fill="#9512c8"/>
<circle cx="113.10" cy="182.10" r="2.5" fill="#9512c8"/>
<circle cx="113.10" cy="189.10" r="2.5" fill="#93e03a"/>
<circle cx="122.80" cy="202.30" r="2.5" fill="#f07d2d"/>
<circle cx="48.70" cy="193.70" r="2.5" fill="#1ea0f5"/>
<circle cx="37.30" cy="199.70" r="2.5" fill="#93e03a"/>
<circle cx="43.90" cy="197.90" r="2.5" fill="#9512c8"/>
<circle cx="88.40" cy="208.50" r="2.5" fill="#f02a2a"/>
<circle cx="37.60" cy="211.10" r="2.5" fill="#9512c8"/>
<circle cx="111.20" cy="215.60" r="2.5" fill="#f07d2d"/>
<circle cx="117.00" cy="217.00" r="2.5" fill="#1ea0f5"/>
<circle cx="119.30" cy="221.80" r="2.5" fill="#1ea0f5"/>
<circle cx="108.20" cy="229.30" r="2.5" fill="#93e03a"/>
<circle cx="85.40" cy="245.90" r="2.5" fill="#f07d2d"/>
<text transform="translate(45.15,171.80) scale(1.0,1.12)" class="l" text-anchor="middle">R-GA</text>
<text transform="translate(44.75,178.30) scale(1.0,1.12)" class="l" text-anchor="middle">PB</text>
<text transform="translate(77.15,175.30) scale(1.0,1.12)" class="l" text-anchor="middle">SDN</text>
<text transform="translate(89.80,175.30) scale(1.0,1.12)" class="l" text-anchor="middle">GY</text>
<text transform="translate(97.30,186.20) scale(1.0,1.12)" class="l" text-anchor="middle">P-IAA</text>
<text transform="translate(121.45,180.00) scale(1.0,1.12)" class="l" text-anchor="middle">GPN</text>
<text transform="translate(121.65,186.20) scale(1.0,1.12)" class="l" text-anchor="middle">SSN</text>
<text transform="translate(103.00,193.50) scale(1.0,1.12)" class="l" text-anchor="middle">P-ZR</text>
<text transform="translate(118.10,202.80) scale(1.0,1.12)" class="l" text-anchor="middle">EP</text>
<text transform="translate(38.85,194.60) scale(1.0,1.12)" class="l" text-anchor="middle">R-ZR</text>
<text transform="translate(32.45,197.90) scale(1.0,1.12)" class="l" text-anchor="middle">P-GA</text>
<text transform="translate(53.90,200.70) scale(1.0,1.12)" class="l" text-anchor="middle">SRN</text>
<text transform="translate(82.35,207.50) scale(1.0,1.12)" class="l" text-anchor="middle">PN</text>
<text transform="translate(30.50,214.50) scale(1.0,1.12)" class="l" text-anchor="middle">RP</text>
<text transform="translate(102.50,220.00) scale(1.0,1.12)" class="l" text-anchor="middle">SSR</text>
<text transform="translate(106.70,214.40) scale(1.0,1.12)" class="l" text-anchor="middle">R-IAA</text>
<text transform="translate(123.15,228.80) scale(1.0,1.12)" class="l" text-anchor="middle">R-ABA</text>
<text transform="translate(96.40,231.90) scale(1.0,1.12)" class="l" text-anchor="middle">P-ABA</text>
<text transform="translate(77.60,244.20) scale(1.0,1.12)" class="l" text-anchor="middle">TGW</text>
<path d="M160.00 252.20v1.8M160.00 159.00v-1.8M175.40 252.20v1.8M175.40 159.00v-1.8M191.05 252.20v1.8M191.05 159.00v-1.8M206.70 252.20v1.8M206.70 159.00v-1.8M222.35 252.20v1.8M222.35 159.00v-1.8M238.00 252.20v1.8M238.00 159.00v-1.8M253.65 252.20v1.8M253.65 159.00v-1.8M269.30 252.20v1.8M269.30 159.00v-1.8M160.00 252.20h-1.8M269.80 252.20h1.8M160.00 242.15h-1.8M269.80 242.15h1.8M160.00 231.80h-1.8M269.80 231.80h1.8M160.00 221.45h-1.8M269.80 221.45h1.8M160.00 211.10h-1.8M269.80 211.10h1.8M160.00 200.75h-1.8M269.80 200.75h1.8M160.00 190.40h-1.8M269.80 190.40h1.8M160.00 180.05h-1.8M269.80 180.05h1.8M160.00 169.70h-1.8M269.80 169.70h1.8M160.00 159.35h-1.8M269.80 159.35h1.8" stroke="#333" stroke-width="0.85" fill="none"/>
<text x="175.40" y="261.5" class="t" text-anchor="middle">−0.2</text>
<text x="206.70" y="261.5" class="t" text-anchor="middle">0.0</text>
<text x="238.00" y="261.5" class="t" text-anchor="middle">0.2</text>
<text x="269.30" y="261.5" class="t" text-anchor="middle">0.4</text>
<text x="156.30" y="254.50" class="t" text-anchor="end">−0.4</text>
<text x="156.30" y="233.80" class="t" text-anchor="end">−0.2</text>
<text x="156.30" y="213.10" class="t" text-anchor="end">0.0</text>
<text x="156.30" y="192.40" class="t" text-anchor="end">0.2</text>
<text x="156.30" y="171.70" class="t" text-anchor="end">0.4</text>
<line x1="206.70" y1="159.00" x2="206.70" y2="252.20" stroke="#333" stroke-width="1.0"/>
<line x1="160.00" y1="211.10" x2="269.80" y2="211.10" stroke="#333" stroke-width="1.0"/>
<line x1="159.50" y1="159.00" x2="270.30" y2="159.00" stroke="#333" stroke-width="1.0"/>
<line x1="159.50" y1="252.20" x2="270.30" y2="252.20" stroke="#333" stroke-width="1.0"/>
<line x1="160.00" y1="158.50" x2="160.00" y2="252.70" stroke="#333" stroke-width="1.0"/>
<line x1="269.80" y1="158.50" x2="269.80" y2="252.70" stroke="#333" stroke-width="1.0"/>
<text transform="translate(214.90,272.2) scale(1,1.2)" class="a" text-anchor="middle">PC1 (43.4%)</text>
<text transform="translate(142.40,205.60) rotate(-90) scale(1,1.2)" class="a" text-anchor="middle">PC2 (27.4%)</text>
<circle cx="184.30" cy="173.50" r="2.5" fill="#1ea0f5"/>
<circle cx="209.70" cy="179.50" r="2.5" fill="#93e03a"/>
<circle cx="175.50" cy="185.00" r="2.5" fill="#f07d2d"/>
<circle cx="223.00" cy="184.10" r="2.5" fill="#f07d2d"/>
<circle cx="242.60" cy="185.60" r="2.5" fill="#1ea0f5"/>
<circle cx="244.00" cy="180.90" r="2.5" fill="#f07d2d"/>
<circle cx="250.80" cy="194.90" r="2.5" fill="#93e03a"/>
<circle cx="255.20" cy="198.10" r="2.5" fill="#9512c8"/>
<circle cx="255.20" cy="198.10" r="2.5" fill="#9512c8"/>
<circle cx="242.60" cy="206.30" r="2.5" fill="#f02a2a"/>
<circle cx="255.20" cy="215.80" r="2.5" fill="#f07d2d"/>
<circle cx="255.20" cy="222.60" r="2.5" fill="#93e03a"/>
<circle cx="229.10" cy="222.80" r="2.5" fill="#1ea0f5"/>
<circle cx="244.00" cy="227.50" r="2.5" fill="#93e03a"/>
<circle cx="247.90" cy="228.10" r="2.5" fill="#9512c8"/>
<circle cx="251.70" cy="232.40" r="2.5" fill="#1ea0f5"/>
<circle cx="235.10" cy="241.90" r="2.5" fill="#f02a2a"/>
<circle cx="181.60" cy="245.10" r="2.5" fill="#9512c8"/>
<circle cx="198.40" cy="248.00" r="2.5" fill="#9512c8"/>
<text transform="translate(172.80,175.70) scale(1.0,1.12)" class="l" text-anchor="middle">R-ABA</text>
<text transform="translate(197.05,181.80) scale(1.0,1.12)" class="l" text-anchor="middle">P-ABA</text>
<text transform="translate(166.65,187.00) scale(1.0,1.12)" class="l" text-anchor="middle">TGW</text>
<text transform="translate(215.70,191.80) scale(1.0,1.12)" class="l" text-anchor="middle">SSR</text>
<text transform="translate(231.20,189.10) scale(1.0,1.12)" class="l" text-anchor="middle">R-IAA</text>
<text transform="translate(242.35,178.30) scale(1.0,1.12)" class="l" text-anchor="middle">EP</text>
<text transform="translate(257.30,190.90) scale(1.0,1.12)" class="l" text-anchor="middle">P-ZR</text>
<text transform="translate(262.60,197.00) scale(1.0,1.12)" class="l" text-anchor="middle">GPN</text>
<text transform="translate(256.20,204.00) scale(1.0,1.12)" class="l" text-anchor="middle">SSN</text>
<text transform="translate(236.70,205.40) scale(1.0,1.12)" class="l" text-anchor="middle">PN</text>
<text transform="translate(258.10,213.80) scale(1.0,1.12)" class="l" text-anchor="middle">GY</text>
<text transform="translate(263.00,229.60) scale(1.0,1.12)" class="l" text-anchor="middle">P-GA</text>
<text transform="translate(220.25,221.40) scale(1.0,1.12)" class="l" text-anchor="middle">R-ZR</text>
<text transform="translate(240.85,226.10) scale(1.0,1.12)" class="l" text-anchor="middle">SDN</text>
<text transform="translate(232.95,229.30) scale(1.0,1.12)" class="l" text-anchor="middle">P-IAA</text>
<text transform="translate(242.15,234.90) scale(1.0,1.12)" class="l" text-anchor="middle">R-GA</text>
<text transform="translate(230.60,240.30) scale(1.0,1.12)" class="l" text-anchor="middle">PB</text>
<text transform="translate(175.15,246.80) scale(1.0,1.12)" class="l" text-anchor="middle">RP</text>
<text transform="translate(190.45,250.80) scale(1.0,1.12)" class="l" text-anchor="middle">SRN</text>
<path d="M297.30 252.20v1.8M297.30 159.00v-1.8M312.80 252.20v1.8M312.80 159.00v-1.8M328.50 252.20v1.8M328.50 159.00v-1.8M344.20 252.20v1.8M344.20 159.00v-1.8M359.90 252.20v1.8M359.90 159.00v-1.8M375.60 252.20v1.8M375.60 159.00v-1.8M391.30 252.20v1.8M391.30 159.00v-1.8M407.00 252.20v1.8M407.00 159.00v-1.8M297.30 252.00h-1.8M407.30 252.00h1.8M297.30 242.70h-1.8M407.30 242.70h1.8M297.30 233.40h-1.8M407.30 233.40h1.8M297.30 224.10h-1.8M407.30 224.10h1.8M297.30 214.80h-1.8M407.30 214.80h1.8M297.30 205.50h-1.8M407.30 205.50h1.8M297.30 196.20h-1.8M407.30 196.20h1.8M297.30 186.90h-1.8M407.30 186.90h1.8M297.30 177.60h-1.8M407.30 177.60h1.8M297.30 168.30h-1.8M407.30 168.30h1.8M297.30 159.00h-1.8M407.30 159.00h1.8" stroke="#333" stroke-width="0.85" fill="none"/>
<text x="312.80" y="261.5" class="t" text-anchor="middle">−0.2</text>
<text x="344.20" y="261.5" class="t" text-anchor="middle">0.0</text>
<text x="375.60" y="261.5" class="t" text-anchor="middle">0.2</text>
<text x="407.00" y="261.5" class="t" text-anchor="middle">0.4</text>
<text x="293.60" y="244.70" class="t" text-anchor="end">−0.4</text>
<text x="293.60" y="226.10" class="t" text-anchor="end">−0.2</text>
<text x="293.60" y="207.50" class="t" text-anchor="end">0.0</text>
<text x="293.60" y="188.90" class="t" text-anchor="end">0.2</text>
<text x="293.60" y="170.30" class="t" text-anchor="end">0.4</text>
<line x1="344.20" y1="159.00" x2="344.20" y2="252.20" stroke="#707070" stroke-width="1.2"/>
<line x1="297.30" y1="205.50" x2="407.30" y2="205.50" stroke="#707070" stroke-width="1.2"/>
<line x1="296.80" y1="159.00" x2="407.80" y2="159.00" stroke="#333" stroke-width="1.0"/>
<line x1="296.80" y1="252.20" x2="407.80" y2="252.20" stroke="#333" stroke-width="1.0"/>
<line x1="297.30" y1="158.50" x2="297.30" y2="252.70" stroke="#333" stroke-width="1.0"/>
<line x1="407.30" y1="158.50" x2="407.30" y2="252.70" stroke="#333" stroke-width="1.0"/>
<text transform="translate(352.30,272.2) scale(1,1.2)" class="a" text-anchor="middle">PC1 (42.1%)</text>
<text transform="translate(279.70,205.60) rotate(-90) scale(1,1.2)" class="a" text-anchor="middle">PC2 (28.6%)</text>
<circle cx="372.10" cy="173.40" r="2.5" fill="#1ea0f5"/>
<circle cx="362.60" cy="177.40" r="2.5" fill="#f02a2a"/>
<circle cx="375.70" cy="183.00" r="2.5" fill="#9512c8"/>
<circle cx="379.60" cy="183.90" r="2.5" fill="#93e03a"/>
<circle cx="387.10" cy="185.80" r="2.5" fill="#1ea0f5"/>
<circle cx="384.90" cy="187.40" r="2.5" fill="#f07d2d"/>
<circle cx="395.40" cy="202.30" r="2.5" fill="#9512c8"/>
<circle cx="395.40" cy="202.30" r="2.5" fill="#9512c8"/>
<circle cx="392.40" cy="207.20" r="2.5" fill="#f02a2a"/>
<circle cx="361.20" cy="203.30" r="2.5" fill="#93e03a"/>
<circle cx="320.90" cy="181.40" r="2.5" fill="#9512c8"/>
<circle cx="306.40" cy="187.60" r="2.5" fill="#9512c8"/>
<circle cx="385.20" cy="221.00" r="2.5" fill="#1ea0f5"/>
<circle cx="374.70" cy="225.40" r="2.5" fill="#f07d2d"/>
<circle cx="392.40" cy="220.50" r="2.5" fill="#f07d2d"/>
<circle cx="373.10" cy="227.50" r="2.5" fill="#93e03a"/>
<circle cx="373.10" cy="233.70" r="2.5" fill="#1ea0f5"/>
<circle cx="368.20" cy="238.60" r="2.5" fill="#93e03a"/>
<circle cx="323.50" cy="236.30" r="2.5" fill="#f07d2d"/>
<text transform="translate(376.10,170.90) scale(1.0,1.12)" class="l" text-anchor="middle">R-GA</text>
<text transform="translate(354.95,179.20) scale(1.0,1.12)" class="l" text-anchor="middle">PB</text>
<text transform="translate(366.45,186.20) scale(1.0,1.12)" class="l" text-anchor="middle">SDN</text>
<text transform="translate(388.35,181.40) scale(1.0,1.12)" class="l" text-anchor="middle">P-GA</text>
<text transform="translate(397.35,187.90) scale(1.0,1.12)" class="l" text-anchor="middle">R-ZR</text>
<text transform="translate(377.10,193.20) scale(1.0,1.12)" class="l" text-anchor="middle">GY</text>
<text transform="translate(392.70,196.70) scale(1.0,1.12)" class="l" text-anchor="middle">SSN</text>
<text transform="translate(385.90,202.80) scale(1.0,1.12)" class="l" text-anchor="middle">GPN</text>
<text transform="translate(384.25,210.20) scale(1.0,1.12)" class="l" text-anchor="middle">PN</text>
<text transform="translate(352.15,201.60) scale(1.0,1.12)" class="l" text-anchor="middle">P-ZR</text>
<text transform="translate(312.50,183.90) scale(1.0,1.12)" class="l" text-anchor="middle">SRN</text>
<text transform="translate(302.95,195.80) scale(1.0,1.12)" class="l" text-anchor="middle">RP</text>
<text transform="translate(380.90,217.40) scale(1.0,1.12)" class="l" text-anchor="middle">R-IAA</text>
<text transform="translate(367.30,221.80) scale(1.0,1.12)" class="l" text-anchor="middle">SSR</text>
<text transform="translate(398.60,224.90) scale(1.0,1.12)" class="l" text-anchor="middle">EP</text>
<text transform="translate(361.60,230.20) scale(1.0,1.12)" class="l" text-anchor="middle">P-ABA</text>
<text transform="translate(385.10,239.40) scale(1.0,1.12)" class="l" text-anchor="middle">R-ABA</text>
<text transform="translate(357.30,242.80) scale(1.0,1.12)" class="l" text-anchor="middle">P-IAA</text>
<text transform="translate(314.35,238.90) scale(1.0,1.12)" class="l" text-anchor="middle">TGW</text>
<path d="M433.30 252.20v1.8M433.30 159.00v-1.8M448.80 252.20v1.8M448.80 159.00v-1.8M464.50 252.20v1.8M464.50 159.00v-1.8M480.20 252.20v1.8M480.20 159.00v-1.8M495.90 252.20v1.8M495.90 159.00v-1.8M511.60 252.20v1.8M511.60 159.00v-1.8M527.30 252.20v1.8M527.30 159.00v-1.8M543.00 252.20v1.8M543.00 159.00v-1.8M433.30 251.90h-1.8M543.10 251.90h1.8M433.30 242.60h-1.8M543.10 242.60h1.8M433.30 233.30h-1.8M543.10 233.30h1.8M433.30 224.00h-1.8M543.10 224.00h1.8M433.30 214.70h-1.8M543.10 214.70h1.8M433.30 205.40h-1.8M543.10 205.40h1.8M433.30 196.10h-1.8M543.10 196.10h1.8M433.30 186.80h-1.8M543.10 186.80h1.8M433.30 177.50h-1.8M543.10 177.50h1.8M433.30 168.20h-1.8M543.10 168.20h1.8M433.30 159.00h-1.8M543.10 159.00h1.8" stroke="#333" stroke-width="0.85" fill="none"/>
<text x="448.80" y="261.5" class="t" text-anchor="middle">−0.2</text>
<text x="480.20" y="261.5" class="t" text-anchor="middle">0.0</text>
<text x="511.60" y="261.5" class="t" text-anchor="middle">0.2</text>
<text x="543.00" y="261.5" class="t" text-anchor="middle">0.4</text>
<text x="429.60" y="244.60" class="t" text-anchor="end">−0.4</text>
<text x="429.60" y="226.00" class="t" text-anchor="end">−0.2</text>
<text x="429.60" y="207.40" class="t" text-anchor="end">0.0</text>
<text x="429.60" y="188.80" class="t" text-anchor="end">0.2</text>
<text x="429.60" y="170.20" class="t" text-anchor="end">0.4</text>
<line x1="480.20" y1="159.00" x2="480.20" y2="252.20" stroke="#8e8e8e" stroke-width="1.6"/>
<line x1="433.30" y1="205.40" x2="543.10" y2="205.40" stroke="#8e8e8e" stroke-width="1.6"/>
<line x1="432.80" y1="159.00" x2="543.60" y2="159.00" stroke="#333" stroke-width="1.0"/>
<line x1="432.80" y1="252.20" x2="543.60" y2="252.20" stroke="#333" stroke-width="1.0"/>
<line x1="433.30" y1="158.50" x2="433.30" y2="252.70" stroke="#333" stroke-width="1.0"/>
<line x1="543.10" y1="158.50" x2="543.10" y2="252.70" stroke="#333" stroke-width="1.0"/>
<text transform="translate(488.20,272.2) scale(1,1.2)" class="a" text-anchor="middle">PC1 (44.9%)</text>
<text transform="translate(415.70,205.60) rotate(-90) scale(1,1.2)" class="a" text-anchor="middle">PC2 (25.8%)</text>
<circle cx="485.30" cy="166.90" r="2.5" fill="#1ea0f5"/>
<circle cx="498.10" cy="175.30" r="2.5" fill="#f02a2a"/>
<circle cx="508.20" cy="180.00" r="2.5" fill="#9512c8"/>
<circle cx="514.40" cy="180.60" r="2.5" fill="#f07d2d"/>
<circle cx="513.50" cy="185.30" r="2.5" fill="#1ea0f5"/>
<circle cx="527.30" cy="191.40" r="2.5" fill="#93e03a"/>
<circle cx="528.40" cy="198.10" r="2.5" fill="#9512c8"/>
<circle cx="528.40" cy="198.10" r="2.5" fill="#9512c8"/>
<circle cx="455.70" cy="183.20" r="2.5" fill="#9512c8"/>
<circle cx="442.40" cy="190.50" r="2.5" fill="#9512c8"/>
<circle cx="493.70" cy="199.00" r="2.5" fill="#93e03a"/>
<circle cx="521.70" cy="208.60" r="2.5" fill="#1ea0f5"/>
<circle cx="527.30" cy="211.50" r="2.5" fill="#93e03a"/>
<circle cx="527.50" cy="217.00" r="2.5" fill="#f07d2d"/>
<circle cx="518.60" cy="222.60" r="2.5" fill="#f02a2a"/>
<circle cx="524.40" cy="226.30" r="2.5" fill="#1ea0f5"/>
<circle cx="513.80" cy="226.70" r="2.5" fill="#f07d2d"/>
<circle cx="504.70" cy="237.70" r="2.5" fill="#93e03a"/>
<circle cx="463.90" cy="238.90" r="2.5" fill="#f07d2d"/>
<text transform="translate(475.85,173.90) scale(1.0,1.12)" class="l" text-anchor="middle">R-GA</text>
<text transform="translate(492.95,181.80) scale(1.0,1.12)" class="l" text-anchor="middle">PB</text>
<text transform="translate(507.70,177.40) scale(1.0,1.12)" class="l" text-anchor="middle">SDN</text>
<text transform="translate(521.55,180.00) scale(1.0,1.12)" class="l" text-anchor="middle">GY</text>
<text transform="translate(505.05,191.40) scale(1.0,1.12)" class="l" text-anchor="middle">R-ZR</text>
<text transform="translate(534.45,188.80) scale(1.0,1.12)" class="l" text-anchor="middle">P-GA</text>
<text transform="translate(536.85,199.00) scale(1.0,1.12)" class="l" text-anchor="middle">GPN</text>
<text transform="translate(521.05,199.70) scale(1.0,1.12)" class="l" text-anchor="middle">SSN</text>
<text transform="translate(447.00,186.20) scale(1.0,1.12)" class="l" text-anchor="middle">SRN</text>
<text transform="translate(437.00,197.00) scale(1.0,1.12)" class="l" text-anchor="middle">RP</text>
<text transform="translate(484.95,202.30) scale(1.0,1.12)" class="l" text-anchor="middle">P-ZR</text>
<text transform="translate(511.50,213.40) scale(1.0,1.12)" class="l" text-anchor="middle">R-IAA</text>
<text transform="translate(534.90,209.90) scale(1.0,1.12)" class="l" text-anchor="middle">P-ABA</text>
<text transform="translate(534.85,221.90) scale(1.0,1.12)" class="l" text-anchor="middle">EP</text>
<text transform="translate(515.15,222.60) scale(1.0,1.12)" class="l" text-anchor="middle">PN</text>
<text transform="translate(530.50,233.10) scale(1.0,1.12)" class="l" text-anchor="middle">R-ABA</text>
<text transform="translate(503.80,231.00) scale(1.0,1.12)" class="l" text-anchor="middle">SSR</text>
<text transform="translate(494.80,243.60) scale(1.0,1.12)" class="l" text-anchor="middle">P-IAA</text>
<text transform="translate(454.45,243.30) scale(1.0,1.12)" class="l" text-anchor="middle">TGW</text>
<path d="M570.60 252.80v1.8M570.60 159.30v-1.8M585.90 252.80v1.8M585.90 159.30v-1.8M601.55 252.80v1.8M601.55 159.30v-1.8M617.20 252.80v1.8M617.20 159.30v-1.8M632.85 252.80v1.8M632.85 159.30v-1.8M648.50 252.80v1.8M648.50 159.30v-1.8M664.15 252.80v1.8M664.15 159.30v-1.8M679.80 252.80v1.8M679.80 159.30v-1.8M570.60 252.80h-1.8M680.50 252.80h1.8M570.60 243.60h-1.8M680.50 243.60h1.8M570.60 234.30h-1.8M680.50 234.30h1.8M570.60 225.00h-1.8M680.50 225.00h1.8M570.60 215.70h-1.8M680.50 215.70h1.8M570.60 206.40h-1.8M680.50 206.40h1.8M570.60 197.10h-1.8M680.50 197.10h1.8M570.60 187.80h-1.8M680.50 187.80h1.8M570.60 178.50h-1.8M680.50 178.50h1.8M570.60 169.20h-1.8M680.50 169.20h1.8M570.60 159.90h-1.8M680.50 159.90h1.8" stroke="#333" stroke-width="0.85" fill="none"/>
<text x="585.90" y="262.1" class="t" text-anchor="middle">−0.2</text>
<text x="617.20" y="262.1" class="t" text-anchor="middle">0.0</text>
<text x="648.50" y="262.1" class="t" text-anchor="middle">0.2</text>
<text x="679.80" y="262.1" class="t" text-anchor="middle">0.4</text>
<text x="566.90" y="245.60" class="t" text-anchor="end">−0.4</text>
<text x="566.90" y="227.00" class="t" text-anchor="end">−0.2</text>
<text x="566.90" y="208.40" class="t" text-anchor="end">0.0</text>
<text x="566.90" y="189.80" class="t" text-anchor="end">0.2</text>
<text x="566.90" y="171.20" class="t" text-anchor="end">0.4</text>
<line x1="617.20" y1="159.30" x2="617.20" y2="252.80" stroke="#2a2a2a" stroke-width="1.0"/>
<line x1="570.60" y1="206.40" x2="680.50" y2="206.40" stroke="#2a2a2a" stroke-width="1.0"/>
<line x1="570.10" y1="159.30" x2="681.00" y2="159.30" stroke="#333" stroke-width="1.0"/>
<line x1="570.10" y1="252.80" x2="681.00" y2="252.80" stroke="#333" stroke-width="1.0"/>
<line x1="570.60" y1="158.80" x2="570.60" y2="253.30" stroke="#333" stroke-width="1.0"/>
<line x1="680.50" y1="158.80" x2="680.50" y2="253.30" stroke="#333" stroke-width="1.0"/>
<text transform="translate(625.55,272.2) scale(1,1.2)" class="a" text-anchor="middle">PC1 (46.6%)</text>
<text transform="translate(553.00,206.05) rotate(-90) scale(1,1.2)" class="a" text-anchor="middle">PC2 (26.6%)</text>
<circle cx="636.50" cy="170.70" r="2.5" fill="#1ea0f5"/>
<circle cx="632.40" cy="177.90" r="2.5" fill="#1ea0f5"/>
<circle cx="649.60" cy="181.80" r="2.5" fill="#9512c8"/>
<circle cx="658.40" cy="185.80" r="2.5" fill="#93e03a"/>
<circle cx="662.20" cy="191.90" r="2.5" fill="#93e03a"/>
<circle cx="657.00" cy="191.40" r="2.5" fill="#f07d2d"/>
<circle cx="654.30" cy="204.20" r="2.5" fill="#f02a2a"/>
<circle cx="652.60" cy="204.20" r="2.5" fill="#1ea0f5"/>
<circle cx="666.30" cy="206.40" r="2.5" fill="#9512c8"/>
<circle cx="666.30" cy="206.40" r="2.5" fill="#9512c8"/>
<circle cx="597.90" cy="175.30" r="2.5" fill="#9512c8"/>
<circle cx="583.40" cy="181.80" r="2.5" fill="#9512c8"/>
<circle cx="660.00" cy="213.50" r="2.5" fill="#f02a2a"/>
<circle cx="661.00" cy="214.90" r="2.5" fill="#93e03a"/>
<circle cx="646.10" cy="223.50" r="2.5" fill="#f07d2d"/>
<circle cx="662.60" cy="223.70" r="2.5" fill="#f07d2d"/>
<circle cx="658.70" cy="228.80" r="2.5" fill="#1ea0f5"/>
<circle cx="597.40" cy="237.50" r="2.5" fill="#f07d2d"/>
<circle cx="628.40" cy="243.70" r="2.5" fill="#93e03a"/>
<text transform="translate(627.60,170.90) scale(1.0,1.12)" class="l" text-anchor="middle">R-GA</text>
<text transform="translate(624.60,182.70) scale(1.0,1.12)" class="l" text-anchor="middle">R-ZR</text>
<text transform="translate(643.10,181.40) scale(1.0,1.12)" class="l" text-anchor="middle">SDN</text>
<text transform="translate(660.20,183.20) scale(1.0,1.12)" class="l" text-anchor="middle">P-GA</text>
<text transform="translate(670.80,190.50) scale(1.0,1.12)" class="l" text-anchor="middle">P-ZR</text>
<text transform="translate(649.50,194.00) scale(1.0,1.12)" class="l" text-anchor="middle">GY</text>
<text transform="translate(660.25,202.80) scale(1.0,1.12)" class="l" text-anchor="middle">PB</text>
<text transform="translate(641.60,209.30) scale(1.0,1.12)" class="l" text-anchor="middle">R-IAA</text>
<text transform="translate(673.20,201.90) scale(1.0,1.12)" class="l" text-anchor="middle">SSN</text>
<text transform="translate(674.65,212.10) scale(1.0,1.12)" class="l" text-anchor="middle">GPN</text>
<text transform="translate(590.40,174.40) scale(1.0,1.12)" class="l" text-anchor="middle">SRN</text>
<text transform="translate(577.35,181.80) scale(1.0,1.12)" class="l" text-anchor="middle">RP</text>
<text transform="translate(653.05,215.80) scale(1.0,1.12)" class="l" text-anchor="middle">PN</text>
<text transform="translate(673.00,221.40) scale(1.0,1.12)" class="l" text-anchor="middle">P-ABA</text>
<text transform="translate(637.95,228.80) scale(1.0,1.12)" class="l" text-anchor="middle">SSR</text>
<text transform="translate(669.40,233.10) scale(1.0,1.12)" class="l" text-anchor="middle">EP</text>
<text transform="translate(647.85,236.60) scale(1.0,1.12)" class="l" text-anchor="middle">R-ABA</text>
<text transform="translate(586.15,239.30) scale(1.0,1.12)" class="l" text-anchor="middle">TGW</text>
<text transform="translate(618.35,247.20) scale(1.0,1.12)" class="l" text-anchor="middle">P-IAA</text>
<text x="12.2" y="11.3" class="ti">Dongfu 114</text>
<text x="12.7" y="150.3" class="ti">Longdao 11</text>
<circle cx="44.9" cy="290.40" r="2.45" fill="#f02a2a"/>
<text x="52.9" y="294.70" class="lg">Panicle biomass and nitrogen concentration</text>
<circle cx="44.9" cy="304.95" r="2.45" fill="#f07d2d"/>
<text x="52.9" y="309.25" class="lg">Grain yield and its components</text>
<circle cx="44.9" cy="319.50" r="2.45" fill="#9512c8"/>
<text x="52.9" y="323.80" class="lg">Floret and grain development</text>
<circle cx="44.9" cy="334.05" r="2.45" fill="#93e03a"/>
<text x="52.9" y="338.35" class="lg">Panicle phytohormones</text>
<circle cx="44.9" cy="348.60" r="2.45" fill="#1ea0f5"/>
<text x="52.9" y="352.90" class="lg">Root phytohormones</text>
</svg></body></html>
